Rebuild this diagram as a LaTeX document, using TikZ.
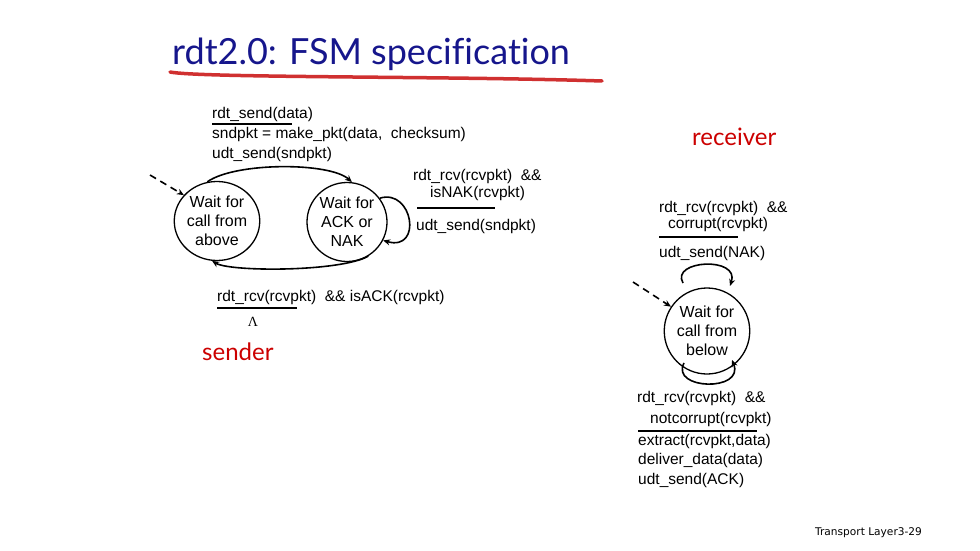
\documentclass[tikz,border=0pt]{standalone}
\usepackage{fontspec}
\setmainfont{Liberation Sans}
\newfontfamily\titlefont[Ligatures=NoCommon]{Lato}
\newfontfamily\footfont{DejaVu Sans}
\newfontfamily\serfont{Liberation Serif}
\usetikzlibrary{arrows.meta,shapes.geometric}
\definecolor{titleblue}{RGB}{22,22,140}
\definecolor{tagred}{RGB}{204,0,0}
\definecolor{brushred}{RGB}{208,48,48}
\newcommand\lblfont{\fontsize{15.5}{18}\selectfont}
\begin{document}
\begin{tikzpicture}[x=1pt,y=-1pt,
  state/.style={ellipse, draw, line width=1.3pt, minimum width=80pt, minimum height=79pt, inner sep=0pt,
    align=center, font=\fontsize{16}{19}\selectfont},
  lbl/.style={anchor=base west, inner sep=0pt, font=\lblfont},
  trans/.style={line width=1.6pt, -{Stealth[length=7pt,width=6pt]}},
  initarr/.style={line width=1.6pt, dash pattern=on 7pt off 5pt, -{Stealth[length=7pt,width=6pt]}},
  rule/.style={line width=1.6pt},
  tag/.style={anchor=base west, inner sep=0pt, text=tagred, font=\titlefont\fontsize{24}{28}\selectfont}]
\fill[white] (0,0) rectangle (980,551);
\useasboundingbox (0,0) rectangle (980,551);

% title
\node[anchor=base west, inner sep=0pt, text=titleblue, font=\titlefont\fontsize{36}{40}\selectfont] (title) at (172,65) {rdt2.0: FSM specification};
\draw[brushred, line width=3.5pt, line cap=round] (170,72) .. controls (200,78) and (450,76) .. (602,81);

% sender states
\node[state] (s1) at (217,221) {Wait for\\call from\\above};
\node[state] (s2) at (347,222) {Wait for\\ACK or\\NAK};

\coordinate (i1) at (150,175);
\draw[initarr] (i1) -- (s1.142);
\draw[trans] (s1.104) .. controls (235,162) and (330,162) .. (s2.83);
\draw[trans] (s2.-58) .. controls (340,272) and (230,272) .. (s1.-97);
\draw[trans] (s2.36) .. controls (413,188) and (423,252) .. (s2.-27);

% sender labels
\node[lbl] (a1) at (212,118) {rdt\_send(data)};
\draw[rule] (212,124) -- (292,124);
\node[lbl] (a2) at (212,138) {sndpkt = make\_pkt(data,~ checksum)};
\node[lbl] (a3) at (212,158) {udt\_send(sndpkt)};

\node[lbl] (b1) at (413,180) {rdt\_rcv(rcvpkt) ~\&\&};
\node[lbl] (b2) at (430,197) {isNAK(rcvpkt)};
\draw[rule] (417,208) -- (495,208);
\node[lbl] (b3) at (416,230) {udt\_send(sndpkt)};

\node[lbl] (c1) at (217,301) {rdt\_rcv(rcvpkt) ~\&\& isACK(rcvpkt)};
\draw[rule] (217,308) -- (297,308);
\node[anchor=base, inner sep=0pt, font=\serfont\fontsize{14}{16}\selectfont] (c2) at (253,326) {Λ};

\node[tag] (snd) at (202,360) {sender};
\node[tag] (rcv) at (692,145) {receiver};

% receiver
\node[state, minimum width=81pt, minimum height=86pt] (r1) at (707,331) {Wait for\\call from\\below};
\coordinate (i2) at (633,282);
\draw[initarr] (i2) -- (r1.146);

\coordinate (t1) at (683,283);
\coordinate (t2) at (730,286);
\draw[trans] (t1) .. controls (670,260) and (740,256) .. (t2);
\coordinate (u1) at (684,363);
\coordinate (u2) at (732,360);
\draw[trans] (u1) .. controls (670,390) and (745,392) .. (u2);

\node[lbl] (d1) at (659,212) {rdt\_rcv(rcvpkt) ~\&\&};
\node[lbl] (d2) at (668,228) {corrupt(rcvpkt)};
\draw[rule] (659,237) -- (738,237);
\node[lbl] (d3) at (659,257) {udt\_send(NAK)};

\node[lbl] (e1) at (637,402) {rdt\_rcv(rcvpkt) ~\&\&};
\node[lbl] (e2) at (650,423) {notcorrupt(rcvpkt)};
\draw[rule] (638,431) -- (757,431);
\node[lbl] (e3) at (638,445) {extract(rcvpkt,data)};
\node[lbl] (e4) at (638,464) {deliver\_data(data)};
\node[lbl] (e5) at (638,484) {udt\_send(ACK)};

% footer
\node[anchor=base west, inner sep=0pt, font=\footfont\fontsize{10.6}{12}\selectfont] (foot) at (815,535) {Transport Layer3-29};
\end{tikzpicture}
\end{document}
